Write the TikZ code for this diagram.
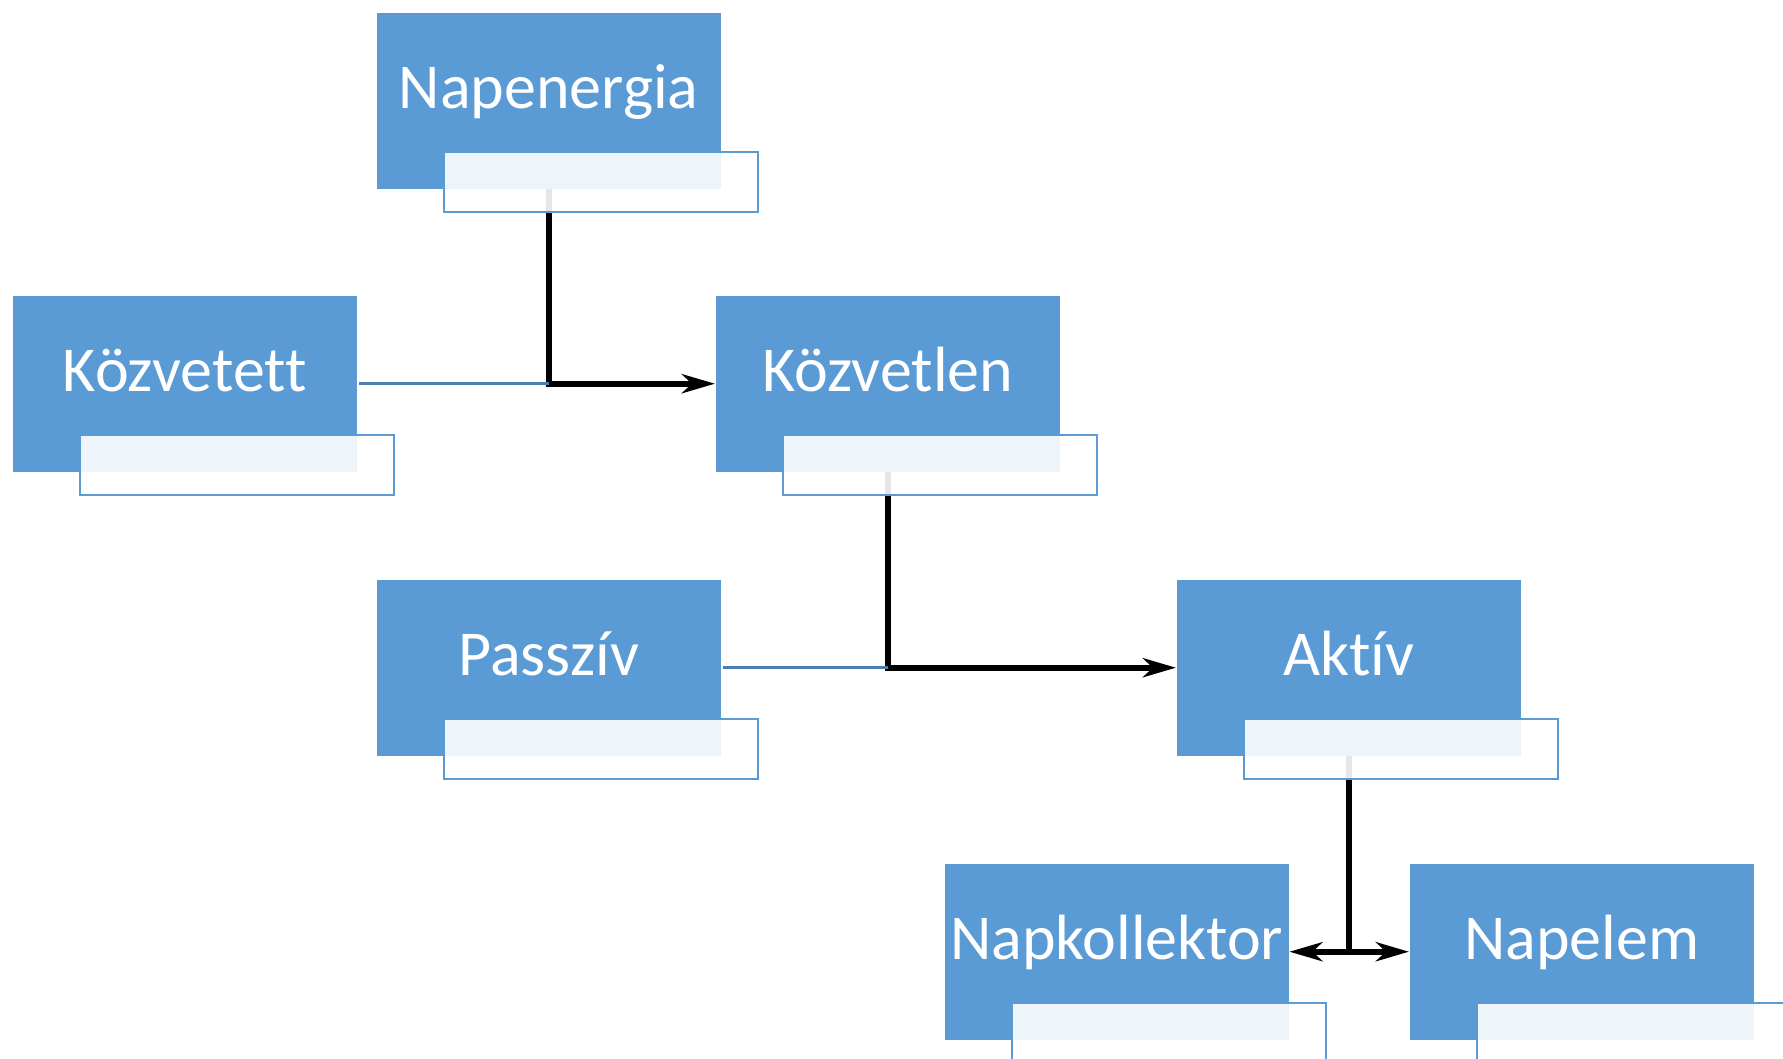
\documentclass[tikz,border=0pt]{standalone}
\usepackage{fontspec}
\setmainfont{Carlito}[Ligatures=NoCommon]
\usetikzlibrary{arrows.meta,positioning}
\definecolor{boxblue}{HTML}{5B9BD5}
\definecolor{linkblue}{HTML}{4A7EB4}
\tikzset{
  box/.style={fill=boxblue, text=white, inner sep=0pt, minimum width=3.44cm,
    text height=0.96cm, text depth=0.80cm, anchor=north west,
    font=\fontsize{18.2}{22}\selectfont},
  tag/.style={draw=boxblue, line width=0.02cm, fill=white, fill opacity=0.9,
    minimum width=3.14cm, minimum height=0.60cm, inner sep=0pt, anchor=north west},
  link/.style={line width=0.06cm},
  side/.style={linkblue, line width=0.027cm, shorten <=0.02cm}
}
\begin{document}
\begin{tikzpicture}[>={Stealth[length=0.33cm,width=0.19cm,inset=0.1cm]}]
    \useasboundingbox (0,0) rectangle (17.83,-10.59);

    \node[box] (napenergia) at (3.76,-0.12) {Napenergia};
    \node[box] (kozvetett) at (0.12,-2.95) {Közvetett};
    \node[box] (kozvetlen) at (7.15,-2.95) {Közvetlen};
    \node[box] (passziv) at (3.76,-5.79) {Passzív};
    \node[box] (aktiv) at (11.76,-5.79) {Aktív};
    \node[box] (napkollektor) at (9.44,-8.63) {Napkollektor};
    \node[box] (napelem) at (14.09,-8.63) {Napelem};

    \coordinate (j1) at (napenergia.south |- kozvetlen.west);
    \coordinate (j2) at (kozvetlen.south |- aktiv.west);
    \coordinate (j3) at (aktiv.south |- napelem.west);

    \draw[link,->] (napenergia.south) -- (j1) -- (kozvetlen.west);
    \draw[side] (kozvetett.east) -- (j1);
    \draw[link,->] (kozvetlen.south) -- (j2) -- (aktiv.west);
    \draw[side] (passziv.east) -- (j2);
    \draw[link] (aktiv.south) -- (j3);
    \draw[link,<->] (napkollektor.east) -- (napelem.west);

    \node[tag] (napenergial) at ([xshift=0.67cm,yshift=0.38cm]napenergia.south west) {};
    \node[tag] (kozvetettl) at ([xshift=0.67cm,yshift=0.38cm]kozvetett.south west) {};
    \node[tag] (kozvetlenl) at ([xshift=0.67cm,yshift=0.38cm]kozvetlen.south west) {};
    \node[tag] (passzivl) at ([xshift=0.67cm,yshift=0.38cm]passziv.south west) {};
    \node[tag] (aktivl) at ([xshift=0.67cm,yshift=0.38cm]aktiv.south west) {};
    \node[tag] (napkollektorl) at ([xshift=0.67cm,yshift=0.38cm]napkollektor.south west) {};
    \node[tag] (napeleml) at ([xshift=0.67cm,yshift=0.38cm]napelem.south west) {};
  \end{tikzpicture}
\end{document}
